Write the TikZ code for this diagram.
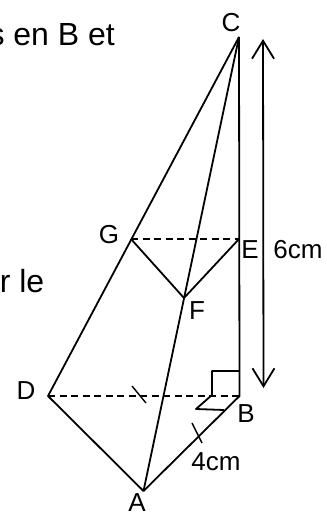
\documentclass[tikz,border=0pt]{standalone}
\usepackage{fontspec}
\setmainfont{Liberation Sans}
\usetikzlibrary{arrows.meta}
\tikzset{
	edge/.style={line width=1.8pt,line join=round},
	hidden/.style={edge,dash pattern=on 7pt off 4.5pt},
	point/.style={inner sep=0pt,anchor=base,font=\fontsize{26}{30}\selectfont},
	body/.style={inner sep=0pt,anchor=base east,font=\fontsize{32}{38}\selectfont}
}

\begin{document}
\begin{tikzpicture}[x=1pt,y=-1pt]
		\useasboundingbox (0,0) rectangle (326,513);
		% text cut by the crop
		\node[body] (T1) at (115,46) {s en B et};
		\node[body] (T2) at (44.5,292) {r le};

		% vertices
		\coordinate (C) at (239,37);
		\coordinate (B) at (239.5,396);
		\coordinate (D) at (48,396);
		\coordinate (A) at (143.5,491);
		\coordinate (G) at (131,239);
		\coordinate (E) at (239,239);
		\coordinate (F) at (184,298);

		\node[point] (LC) at (231,32) {C};
		\node[point] (LG) at (109,243) {G};
		\node[point] (LE) at (250,258) {E};
		\node[point] (LF) at (197,319) {F};
		\node[point] (LD) at (26,399) {D};
		\node[point] (LB) at (246,422) {B};
		\node[point] (LA) at (137,511) {A};
		\node[point] (L6) at (298,258) {6cm};
		\node[point] (L4) at (216,470) {4cm};

		\draw[edge] (C) -- (B) -- (A) -- (D) -- (C);
		\draw[edge] (C) -- (A);
		\draw[edge] (G) -- (F) -- (E);
		\draw[hidden] (D) -- (B);
		\draw[hidden] (G) -- (E);

		% right angle at B
		\coordinate (R1) at (239,371);
		\coordinate (R2) at (212,371);
		\coordinate (R3) at (212,395);
		\coordinate (R4) at (196,409);
		\coordinate (R5) at (224,410);
		\draw[edge] (R1) -- (R2) -- (R3) -- (R4) -- (R5);

		% ticks
		\coordinate (M1) at (132,386);
		\coordinate (M2) at (146,403);
		\coordinate (M3) at (192,423);
		\coordinate (M4) at (202,443);
		\draw[edge,line width=1.4pt] (M1) -- (M2);
		\draw[edge,line width=1.4pt] (M3) -- (M4);

		% height
		\coordinate (H1) at (263,39);
		\coordinate (H2) at (263.5,388);
		\draw[edge,{Straight Barb[length=18pt,width=22pt]}-{Straight Barb[length=18pt,width=22pt]}] (H1) -- (H2);

	\end{tikzpicture}
\end{document}
